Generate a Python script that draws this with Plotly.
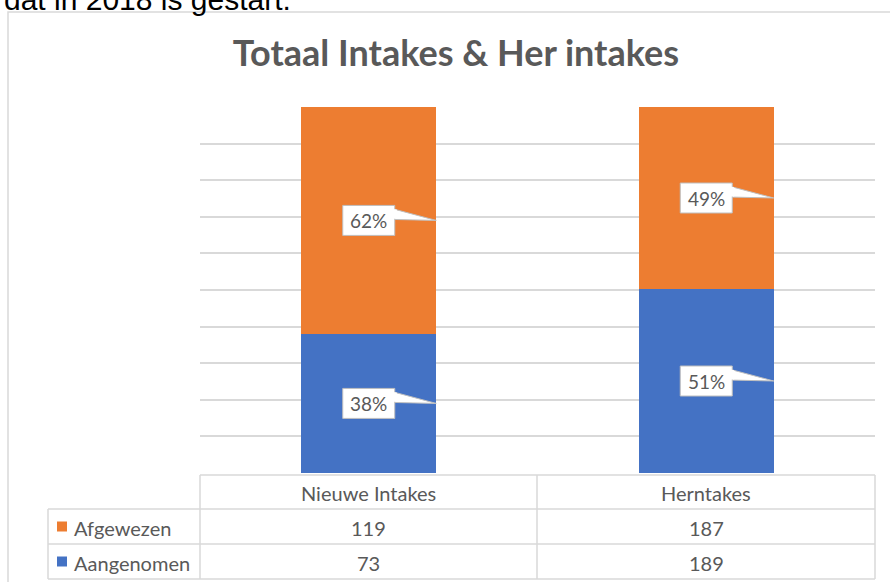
import plotly.graph_objects as go

# ---- data ----
categories = ["Nieuwe Intakes", "Herntakes"]
series_names = ["Aangenomen", "Afgewezen"]
aangenomen = [73, 189]
afgewezen = [119, 187]
aangenomen_pct_labels = ["38%", "51%"]
afgewezen_pct_labels = ["62%", "49%"]
table_rows = ["Afgewezen", "Aangenomen"]

title_text = "Totaal Intakes &amp; Her intakes"
top_text = "dat in 2018 is gestart."

# ---- style ----
W, H = 890, 582
ORANGE = "#ED7D31"
BLUE = "#4472C4"
TXT = "#595959"
GRID = "#D9D9D9"
FONT = "Lato"

def px(x):
    return x / W

def py(y):
    return 1 - y / H

plot_l, plot_r, plot_t, plot_b = 200, 875, 107, 473

fig = go.Figure()
fig.add_trace(go.Bar(x=categories, y=aangenomen, name=series_names[0],
                     marker=dict(color=BLUE, line=dict(width=0))))
fig.add_trace(go.Bar(x=categories, y=afgewezen, name=series_names[1],
                     marker=dict(color=ORANGE, line=dict(width=0))))

shapes = []
annotations = []

# chart frame
shapes.append(dict(type="rect", xref="paper", yref="paper",
                   x0=px(8), x1=px(905), y0=py(12), y1=py(600),
                   line=dict(color=GRID, width=1.5), fillcolor="rgba(0,0,0,0)", layer="below"))

# percent callouts
ux = (plot_r - plot_l) / 2.0        # px per category unit
uy = (plot_b - plot_t) / 100.0      # px per percent
bar_half = 0.2
box_hw = 26 / ux
box_hh = 15 / uy
for i, cat in enumerate(categories):
    tot = aangenomen[i] + afgewezen[i]
    a = aangenomen[i] / tot * 100
    segs = [(a / 2, aangenomen_pct_labels[i]), (a + (100 - a) / 2, afgewezen_pct_labels[i])]
    for yc, lab in segs:
        xr = i + box_hw
        tip_x = i + bar_half
        y_top = yc + 12 / uy
        y_bot = yc + 1 / uy
        shapes.append(dict(type="path", xref="x2", yref="y",
                           path=f"M {xr - 0.01},{y_top} L {tip_x},{yc} L {xr - 0.01},{y_bot} Z",
                           fillcolor="white", line=dict(color="#BFBFBF", width=1)))
        shapes.append(dict(type="rect", xref="x2", yref="y",
                           x0=i - box_hw, x1=xr, y0=yc - box_hh, y1=yc + box_hh,
                           fillcolor="white", line=dict(color="#BFBFBF", width=1)))
        shapes.append(dict(type="path", xref="x2", yref="y",
                           path=f"M {xr - 0.006},{y_top - 0.5 / uy} L {xr + 0.006},{y_top - 1.2 / uy} L {xr + 0.006},{y_bot + 0.6 / uy} L {xr - 0.006},{y_bot + 0.6 / uy} Z",
                           fillcolor="white", line=dict(width=0)))
        annotations.append(dict(x=i, y=yc, xref="x2", yref="y", text=lab, showarrow=False,
                                font=dict(family=FONT, size=19, color=TXT),
                                xanchor="center", yanchor="middle"))

# data table
line_style = dict(color=GRID, width=1.5)
t_top, r1, r2, t_bot = 475, 509, 544, 579
t_left, t_mid = 48, 537
for (x0, y0, x1, y1) in [
    (plot_l, t_top, plot_r, t_top),
    (t_left, r1, plot_r, r1),
    (t_left, r2, plot_r, r2),
    (t_left, t_bot, plot_r, t_bot),
    (t_left, r1, t_left, t_bot),
    (plot_l, t_top, plot_l, t_bot),
    (t_mid, t_top, t_mid, t_bot),
    (plot_r, t_top, plot_r, t_bot),
]:
    shapes.append(dict(type="line", xref="paper", yref="paper",
                       x0=px(x0), x1=px(x1), y0=py(y0), y1=py(y1), line=line_style))

for cat in categories:
    annotations.append(dict(x=cat, y=py((t_top + r1) / 2 + 1), xref="x", yref="paper", text=cat,
                            showarrow=False, xanchor="center", yanchor="middle",
                            font=dict(family=FONT, size=20, color=TXT)))

row_vals = {"Afgewezen": afgewezen, "Aangenomen": aangenomen}
row_cols = {"Afgewezen": ORANGE, "Aangenomen": BLUE}
for k, (ya, yb) in zip(table_rows, [(r1, r2), (r2, t_bot)]):
    yc = (ya + yb) / 2
    shapes.append(dict(type="rect", xref="paper", yref="paper",
                       x0=px(57), x1=px(67), y0=py(yc - 5), y1=py(yc + 5),
                       fillcolor=row_cols[k], line=dict(width=0)))
    annotations.append(dict(x=px(72), y=py(yc + 1), xref="paper", yref="paper", text=k,
                            xanchor="left", yanchor="middle", showarrow=False,
                            font=dict(family=FONT, size=20, color=TXT)))
    for cat, v in zip(categories, row_vals[k]):
        annotations.append(dict(x=cat, y=py(yc + 1), xref="x", yref="paper", text=str(v),
                                showarrow=False, xanchor="center", yanchor="middle",
                                font=dict(family=FONT, size=20, color=TXT)))

# clipped text from the surrounding document
annotations.append(dict(x=px(2), y=py(18), xref="paper", yref="paper", text=top_text,
                        xanchor="left", yanchor="bottom", showarrow=False,
                        font=dict(family="Liberation Sans", size=30, color="#000000")))

fig.update_layout(
    width=W, height=H,
    margin=dict(l=0, r=0, t=0, b=0),
    paper_bgcolor="white", plot_bgcolor="white",
    barmode="stack", barnorm="percent", bargap=0.6,
    showlegend=False,
    title=dict(text="<b>" + title_text + "</b>", x=px(456), y=py(53),
               xanchor="center", yanchor="middle",
               font=dict(family=FONT, size=36, color=TXT)),
    xaxis=dict(domain=[px(plot_l), px(plot_r)], showticklabels=False, showgrid=False,
               zeroline=False, showline=False, ticks=""),
    xaxis2=dict(domain=[px(plot_l), px(plot_r)], overlaying="x", range=[-0.5, 1.5],
                visible=False, fixedrange=True),
    yaxis=dict(domain=[py(plot_b), py(plot_t)], range=[0, 100], dtick=10,
               showticklabels=False, showgrid=True, gridcolor=GRID, gridwidth=1.5,
               zeroline=False, showline=False, ticks=""),
    shapes=shapes,
    annotations=annotations,
)

fig.write_html("out.html", config={"displayModeBar": False},
               post_script="document.body.style.margin='0';")
